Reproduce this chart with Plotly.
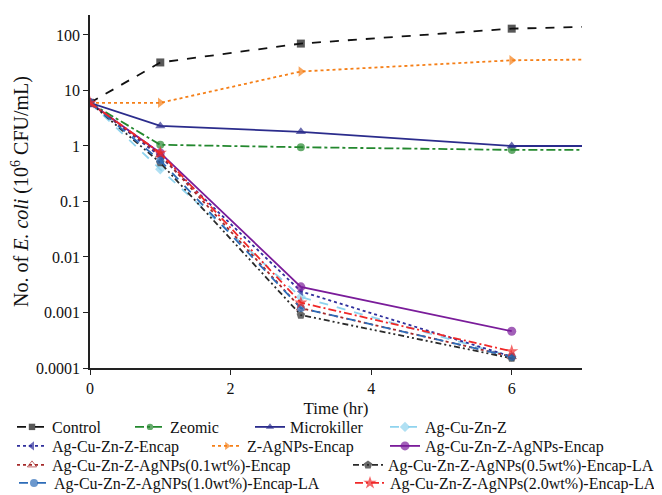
import plotly.graph_objects as go

# ---- data ----
t_ext = [0, 1, 3, 6, 7]          # series whose line runs on to the axis end
t = [0, 1, 3, 6]

control = [6.0, 32, 70, 130, 140]
zeomic = [6.0, 1.05, 0.95, 0.85, 0.85]
microkiller = [6.0, 2.3, 1.8, 1.0, 1.0]
z_agnps_encap = [6.0, 6.0, 22, 35, 36]

ag_cu_zn_z = [6.0, 0.38, 0.0019, 0.00016]
ag_cu_zn_z_encap = [6.0, 0.65, 0.0024, 0.00016]
agnps_encap = [6.0, 0.75, 0.0029, 0.00046]
agnps_01 = [6.0, 0.7, 0.0012, 0.00016]
agnps_05_la = [6.0, 0.5, 0.0009, 0.00015]
agnps_10_la = [6.0, 0.55, 0.0012, 0.00016]
agnps_20_la = [6.0, 0.75, 0.0015, 0.0002]

y_tickvals = [0.0001, 0.001, 0.01, 0.1, 1, 10, 100]
y_ticktext = ["0.0001", "0.001", "0.01", "0.1", "1", "10", "100"]
x_tickvals = [0, 2, 4, 6]

FONT = "Liberation Serif, Times New Roman, serif"

series = [
    # name, x, y, color, dash, symbol, size, legend text x(page px), legend y(page px)
    ("Control", t_ext, control, "#111111", "dash", "square", 8, 52, 427),
    ("Zeomic", t_ext, zeomic, "#23882E", "dashdot", "circle", 8, 170, 427),
    ("Microkiller", t_ext, microkiller, "#2B2C8C", "solid", "triangle-up", 9, 290, 427),
    ("Ag-Cu-Zn-Z", t, ag_cu_zn_z, "#8FD3EE", "dash", "diamond", 8, 425, 427),
    ("Ag-Cu-Zn-Z-Encap", t, ag_cu_zn_z_encap, "#2F2F9C", "dot", "triangle-left", 8, 52, 446),
    ("Z-AgNPs-Encap", t_ext, z_agnps_encap, "#F57F17", "dot", "triangle-right", 9, 247, 446),
    ("Ag-Cu-Zn-Z-AgNPs-Encap", t, agnps_encap, "#7A1C9A", "solid", "circle", 9, 425, 446),
    ("Ag-Cu-Zn-Z-AgNPs(0.1wt%)-Encap", t, agnps_01, "#A52A2A", "dot", "triangle-up-open", 8, 52, 465),
    ("Ag-Cu-Zn-Z-AgNPs(0.5wt%)-Encap-LA", t, agnps_05_la, "#2A2A2A", "6px,3px,2px,3px,2px,3px", "pentagon", 9, 388, 465),
    ("Ag-Cu-Zn-Z-AgNPs(1.0wt%)-Encap-LA", t, agnps_10_la, "#2D6CB8", "dash", "circle", 8, 54, 483),
    ("Ag-Cu-Zn-Z-AgNPs(2.0wt%)-Encap-LA", t, agnps_20_la, "#F02828", "8px,3px,2px,3px", "star", 10, 390, 483),
]

OFF = 8  # default page body margin
W, H = 662 - OFF, 495 - OFF
PL, PR, PT, PB = 90 - OFF, 582 - OFF, 15 - OFF, 368 - OFF

fig = go.Figure()
layout_legends = {}
for i, (name, xs, ys, col, dash, sym, size, tx, ly) in enumerate(series):
    key = "legend" if i == 0 else f"legend{i+1}"
    sizes = [size] * len(xs)
    if len(xs) == 5:
        sizes[-1] = 0
    fig.add_trace(go.Scatter(
        x=xs, y=ys, name=name, mode="lines+markers",
        line=dict(color=col, width=1.8, dash=dash),
        marker=dict(color=col, symbol=sym, size=sizes, line=dict(width=0)),
        legend=key,
    ))
    lx = tx - 40 - OFF
    lyf = ly - OFF
    layout_legends[key] = dict(
        x=(lx - PL) / (PR - PL), xanchor="left",
        y=(PB - lyf) / (PB - PT), yanchor="middle",
        bgcolor="rgba(0,0,0,0)", borderwidth=0,
        font=dict(family=FONT, size=16, color="#111111"),
        itemwidth=30, tracegroupgap=0,
    )

fig.update_layout(
    width=W, height=H,
    margin=dict(l=PL, r=W - PR, t=PT, b=H - PB, autoexpand=False),
    plot_bgcolor="white", paper_bgcolor="white",
    font=dict(family=FONT, size=16, color="#111111"),
    showlegend=True,
    **layout_legends,
)
fig.update_xaxes(
    range=[0, 7], tickvals=x_tickvals, ticks="outside", ticklen=5,
    showline=True, linecolor="#222222", linewidth=1.5, tickcolor="#222222",
    showgrid=False, zeroline=False, automargin=False,
    tickfont=dict(family=FONT, size=16),
    title=dict(text="Time (hr)", font=dict(family=FONT, size=17), standoff=6),
)
fig.update_yaxes(
    type="log", range=[-4, 2.36], tickvals=y_tickvals, ticktext=y_ticktext,
    ticks="outside", ticklen=5,
    showline=True, linecolor="#222222", linewidth=1.5, tickcolor="#222222",
    showgrid=False, zeroline=False, automargin=False,
    tickfont=dict(family=FONT, size=16),
    title=dict(text="No. of <i>E. coli</i> (10<sup>6</sup> CFU/mL)",
               font=dict(family=FONT, size=20), standoff=6),
)

fig.write_html("out.html")
